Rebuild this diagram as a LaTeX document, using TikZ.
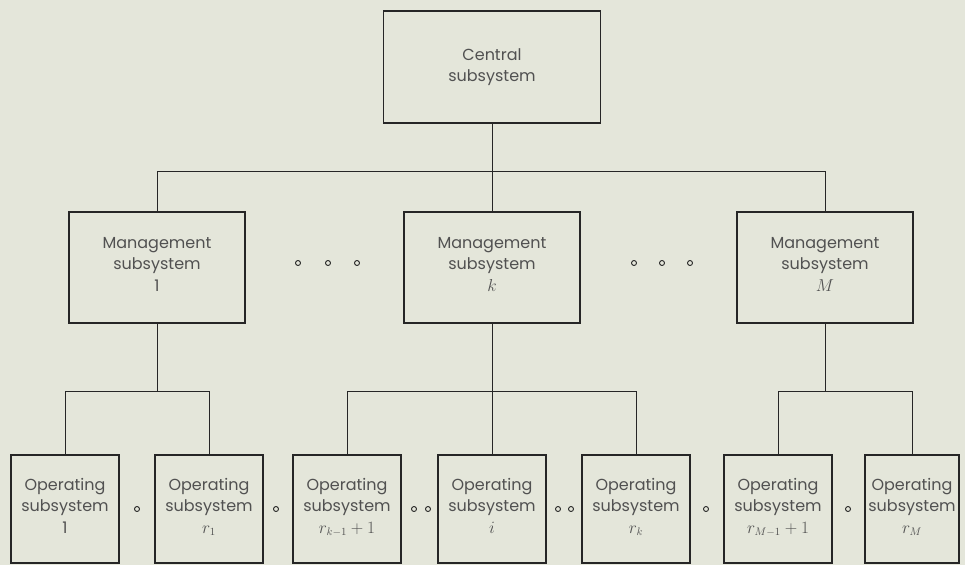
\documentclass[tikz,border=0pt]{standalone}
\usepackage{fontspec}
\setmainfont{Poppins}
\usepackage{tikz}
\definecolor{paper}{HTML}{E4E6DA}
\definecolor{ink}{HTML}{262626}
\tikzset{
x=1pt, y=-1pt, % one unit is one pixel of the scan, y runs downwards
sysbox/.style={draw=ink, line width=1.8pt, fill=paper, align=center, text=ink!80,
  inner sep=2pt, font=\fontsize{16}{21.5}\selectfont}, % every subsystem box
centralbox/.style={sysbox, minimum width=217pt, minimum height=112pt},
mgmtbox/.style={sysbox, minimum width=176pt, minimum height=111pt},
opbox/.style={sysbox, minimum width=108pt, minimum height=108pt},
link/.style={draw=ink, line width=1pt}, % the tree lines
gapdot/.style={circle, draw=ink, line width=0.9pt, inner sep=0pt, minimum size=5pt}, % the small "o" between boxes
}
\begin{document}
\begin{tikzpicture}
        \path[use as bounding box, fill=paper] (0,0) rectangle (965,565);

        \node[centralbox] (central) at (492,67) {Central\\subsystem};

        \node[mgmtbox] (m1) at (157,267.5) {Management\\subsystem\\1\strut};
        \node[mgmtbox] (mk) at (492,267.5) {Management\\subsystem\\$k$\strut};
        \node[mgmtbox] (mM) at (825,267.5) {Management\\subsystem\\$M$\strut};

        \node[opbox] (o1) at (65,509) {Operating\\subsystem\\1\strut};
        \node[opbox] (o2) at (209,509) {Operating\\subsystem\\$r_1$\strut};
        \node[opbox] (o3) at (347,509) {Operating\\subsystem\\$r_{k-1}+1$\strut};
        \node[opbox] (o4) at (492,509) {Operating\\subsystem\\$i$\strut};
        \node[opbox] (o5) at (636,509) {Operating\\subsystem\\$r_k$\strut};
        \node[opbox] (o6) at (778,509) {Operating\\subsystem\\$r_{M-1}+1$\strut};
        \node[opbox, minimum width=94pt] (o7) at (912,509) {Operating\\subsystem\\$r_M$\strut};

        % dots between the management boxes
        \node[gapdot] (da1) at (298,263) {};
        \node[gapdot] (da2) at (328,263) {};
        \node[gapdot] (da3) at (357,263) {};
        \node[gapdot] (db1) at (634,263) {};
        \node[gapdot] (db2) at (662,263) {};
        \node[gapdot] (db3) at (690,263) {};

        % dots between the operating boxes
        \node[gapdot] (dc1) at (137,509) {};
        \node[gapdot] (dc2) at (276,509) {};
        \node[gapdot] (dc3) at (414,509) {};
        \node[gapdot] (dc4) at (428,509) {};
        \node[gapdot] (dc5) at (558,509) {};
        \node[gapdot] (dc6) at (571,509) {};
        \node[gapdot] (dc7) at (706,509) {};
        \node[gapdot] (dc8) at (848,509) {};

        \draw[link] (central.south) -- ++(0,48) -| (m1.north);
        \draw[link] (central.south) -- ++(0,48) -| (mM.north);
        \draw[link] (central.south) -- (mk.north);

        \draw[link] (m1.south) -- ++(0,68) -| (o1.north);
        \draw[link] (m1.south) -- ++(0,68) -| (o2.north);
        \draw[link] (mk.south) -- ++(0,68) -| (o3.north);
        \draw[link] (mk.south) -- ++(0,68) -| (o5.north);
        \draw[link] (mk.south) -- (o4.north);
        \draw[link] (mM.south) -- ++(0,68) -| (o6.north);
        \draw[link] (mM.south) -- ++(0,68) -| (o7.north);
\end{tikzpicture}
\end{document}
